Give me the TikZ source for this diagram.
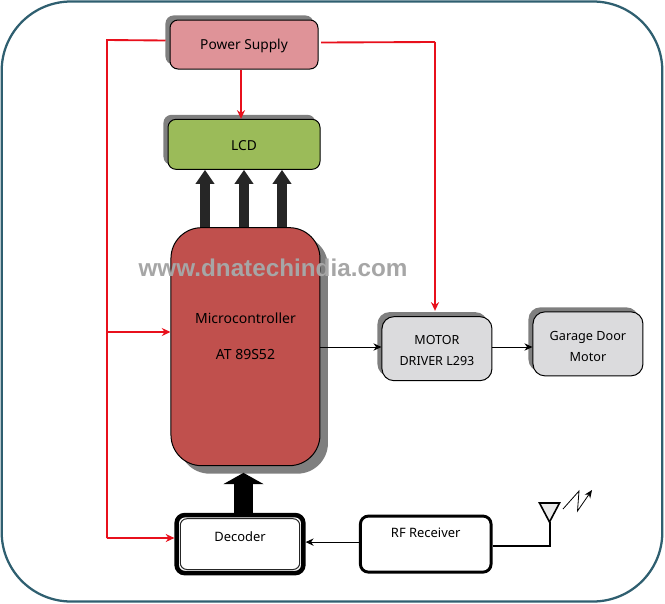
\documentclass[tikz,border=0pt]{standalone}
\usepackage{fontspec}
\setmainfont{Noto Sans}
\newfontfamily\markfont{Liberation Sans}
\usetikzlibrary{arrows.meta,positioning,shadows}
\definecolor{frameblue}{HTML}{2F5F70}
\definecolor{shade}{HTML}{7F7F7F}
\definecolor{powerpink}{HTML}{DF9398}
\definecolor{lcdgreen}{HTML}{9BBB59}
\definecolor{mcured}{HTML}{C0504D}
\definecolor{drivergrey}{HTML}{DBDBDD}
\definecolor{wire}{HTML}{E8101C}
\tikzset{
  block/.style={draw=black,line width=0.75pt,inner sep=0pt,align=center},
  shade_tl/.style={general shadow={fill=shade,shadow xshift=-3.4pt,shadow yshift=3.4pt}},
  shade_br/.style={general shadow={fill=shade,shadow xshift=6pt,shadow yshift=-6pt}},
  node_power/.style={block,shade_tl,fill=powerpink,rounded corners=6pt,minimum width=111pt,minimum height=36.75pt},
  node_lcd/.style={block,shade_tl,fill=lcdgreen,rounded corners=6pt,minimum width=114pt,minimum height=37.5pt},
  node_mcu/.style={block,shade_br,fill=mcured,rounded corners=23pt,minimum width=111.75pt,minimum height=178.5pt},
  node_grey/.style={block,shade_tl,fill=drivergrey,rounded corners=9pt,minimum width=82.5pt,minimum height=48pt},
  node_rx/.style={block,fill=white,line width=2.2pt,rounded corners=6pt},
  node_txt/.style={inner sep=0pt,align=center,font=\fontsize{9.7}{15.75}\selectfont},
  arr_red/.style={-{Stealth[length=6.5pt,width=6pt]},draw=wire,line width=1.4pt},
  line_red/.style={draw=wire,line width=1.4pt},
  arr_thin/.style={-{Stealth[length=6pt,width=5.5pt]},draw=black,line width=0.75pt},
  arr_bus/.style={-{Triangle[length=10.5pt,width=13.5pt]},draw=black!85,line width=7.5pt},
  arr_data/.style={-{Triangle[length=8.5pt,width=30pt]},draw=black,line width=14pt},
}
\begin{document}
\begin{tikzpicture}[x=0.75pt,y=-0.75pt]
  \useasboundingbox (0,0) rectangle (665,604);
  \node[draw=frameblue,line width=1.7pt,rounded corners=52pt,minimum width=495.5pt,minimum height=450pt,inner sep=0pt] (frame) at (332,301.5) {};
  \node[node_power] (power) at (244,44.5) {};
  \node[node_lcd,below=37pt of power] (lcd) {};
  \node[node_mcu,below=43pt of lcd,xshift=1.1pt] (mcu) {};
  \node[node_grey,right=45.75pt of mcu,yshift=-1.5pt] (driver) {};
  \node[node_grey,right=30pt of driver,yshift=3.6pt] (garage) {};
  \node[node_rx,line width=3.4pt,minimum width=95pt,minimum height=43.5pt,below=35pt of mcu,xshift=-4.1pt] (decoder) {};
  \node[node_rx,minimum width=98pt,minimum height=42pt,right=40pt of decoder] (rf) {};
  % texts of the blocks
  \node[node_txt,font=\fontsize{10.3}{12}\selectfont,yshift=-1pt] (powertxt) at (power.center) {Power Supply};
  \node[node_txt,font=\fontsize{10.3}{12}\selectfont,yshift=-1.2pt] (lcdtxt) at (lcd.center) {LCD};
  \node[node_txt,font=\fontsize{10.5}{12}\selectfont,yshift=8pt] (mcutxt) at (mcu.center) {Microcontroller\\[15pt]AT 89S52};
  \node[node_txt,yshift=-1.75pt,font=\fontsize{9.4}{15.75}\selectfont] (drivertxt) at (driver.center) {MOTOR\\DRIVER L293};
  \node[node_txt,yshift=-2pt,font=\fontsize{9.5}{15.75}\selectfont] (garagetxt) at (garage.center) {Garage Door\\Motor};
  \node[node_txt,yshift=5.8pt] (decodertxt) at (decoder.center) {Decoder};
  \node[node_txt,yshift=8.5pt] (rftxt) at (rf.center) {RF Receiver};
  \draw[line width=0.75pt,rounded corners=5pt,draw=black!85] ([shift={(4.4pt,4.4pt)}]decoder.south west) rectangle ([shift={(-4.4pt,-4.4pt)}]decoder.north east);
  % supply lines
  \coordinate (railtop) at (107,40);
  \coordinate (railmid) at (107,332);
  \coordinate (railbot) at (107,538);
  \coordinate (railright) at (435,42);
  \draw[line_red] ([xshift=-3pt,yshift=3pt]power.west) -- (railtop) -- (railbot);
  \draw[arr_red] (railbot) -- (railbot -| decoder.west);
  \draw[arr_red] (railmid) -- (railmid -| mcu.west);
  \draw[arr_red] (power.south -| 241,0) -- (lcd.north -| 241,0);
  \draw[line_red] ([xshift=2pt,yshift=1.5pt]power.east) -- (railright);
  \draw[arr_red] (railright) -- ([yshift=4pt]driver.north -| railright);
  % data lines
  \foreach \busx in {205,244,282}
    \draw[arr_bus] (mcu.north -| \busx,0) -- (lcd.south -| \busx,0);
  \draw[arr_data] ([yshift=-0.5pt]decoder.north -| 243.5,0) -- ([yshift=-5pt]mcu.south -| 243.5,0);
  \coordinate (mcuout) at (320,347);
  \draw[arr_thin] (mcuout -| mcu.east) -- (mcuout -| driver.west);
  \draw[arr_thin] (mcuout -| driver.east) -- (mcuout -| garage.west);
  \draw[arr_thin] ([yshift=1.5pt]rf.west) -- ([yshift=1.5pt]rf.west -| decoder.east);
  % antenna
  \coordinate (antfoot) at (549.5,546);
  \coordinate (anttip) at (549.5,522);
  \coordinate (antl) at (539.5,503);
  \coordinate (antr) at (559.5,503);
  \draw[line width=1.5pt] (rf.east |- antfoot) -- (antfoot) -- (anttip);
  \draw[line width=1.2pt,fill=black!8] (antl) -- (antr) -- (anttip) -- cycle;
  \coordinate (zig1) at (563,509);
  \coordinate (zig2) at (579,491);
  \coordinate (zig3) at (577.5,511);
  \coordinate (zig4) at (592,490);
  \draw[-{Stealth[length=6pt,width=5pt]},line width=0.6pt] (zig1) -- (zig2) -- (zig3) -- (zig4);
  % web address
  \node[font=\markfont\bfseries\fontsize{18.2}{20}\selectfont,text=black!35,inner sep=0pt] (webmark) at (273,268) {www.dnatechindia.com};
\end{tikzpicture}
\end{document}
